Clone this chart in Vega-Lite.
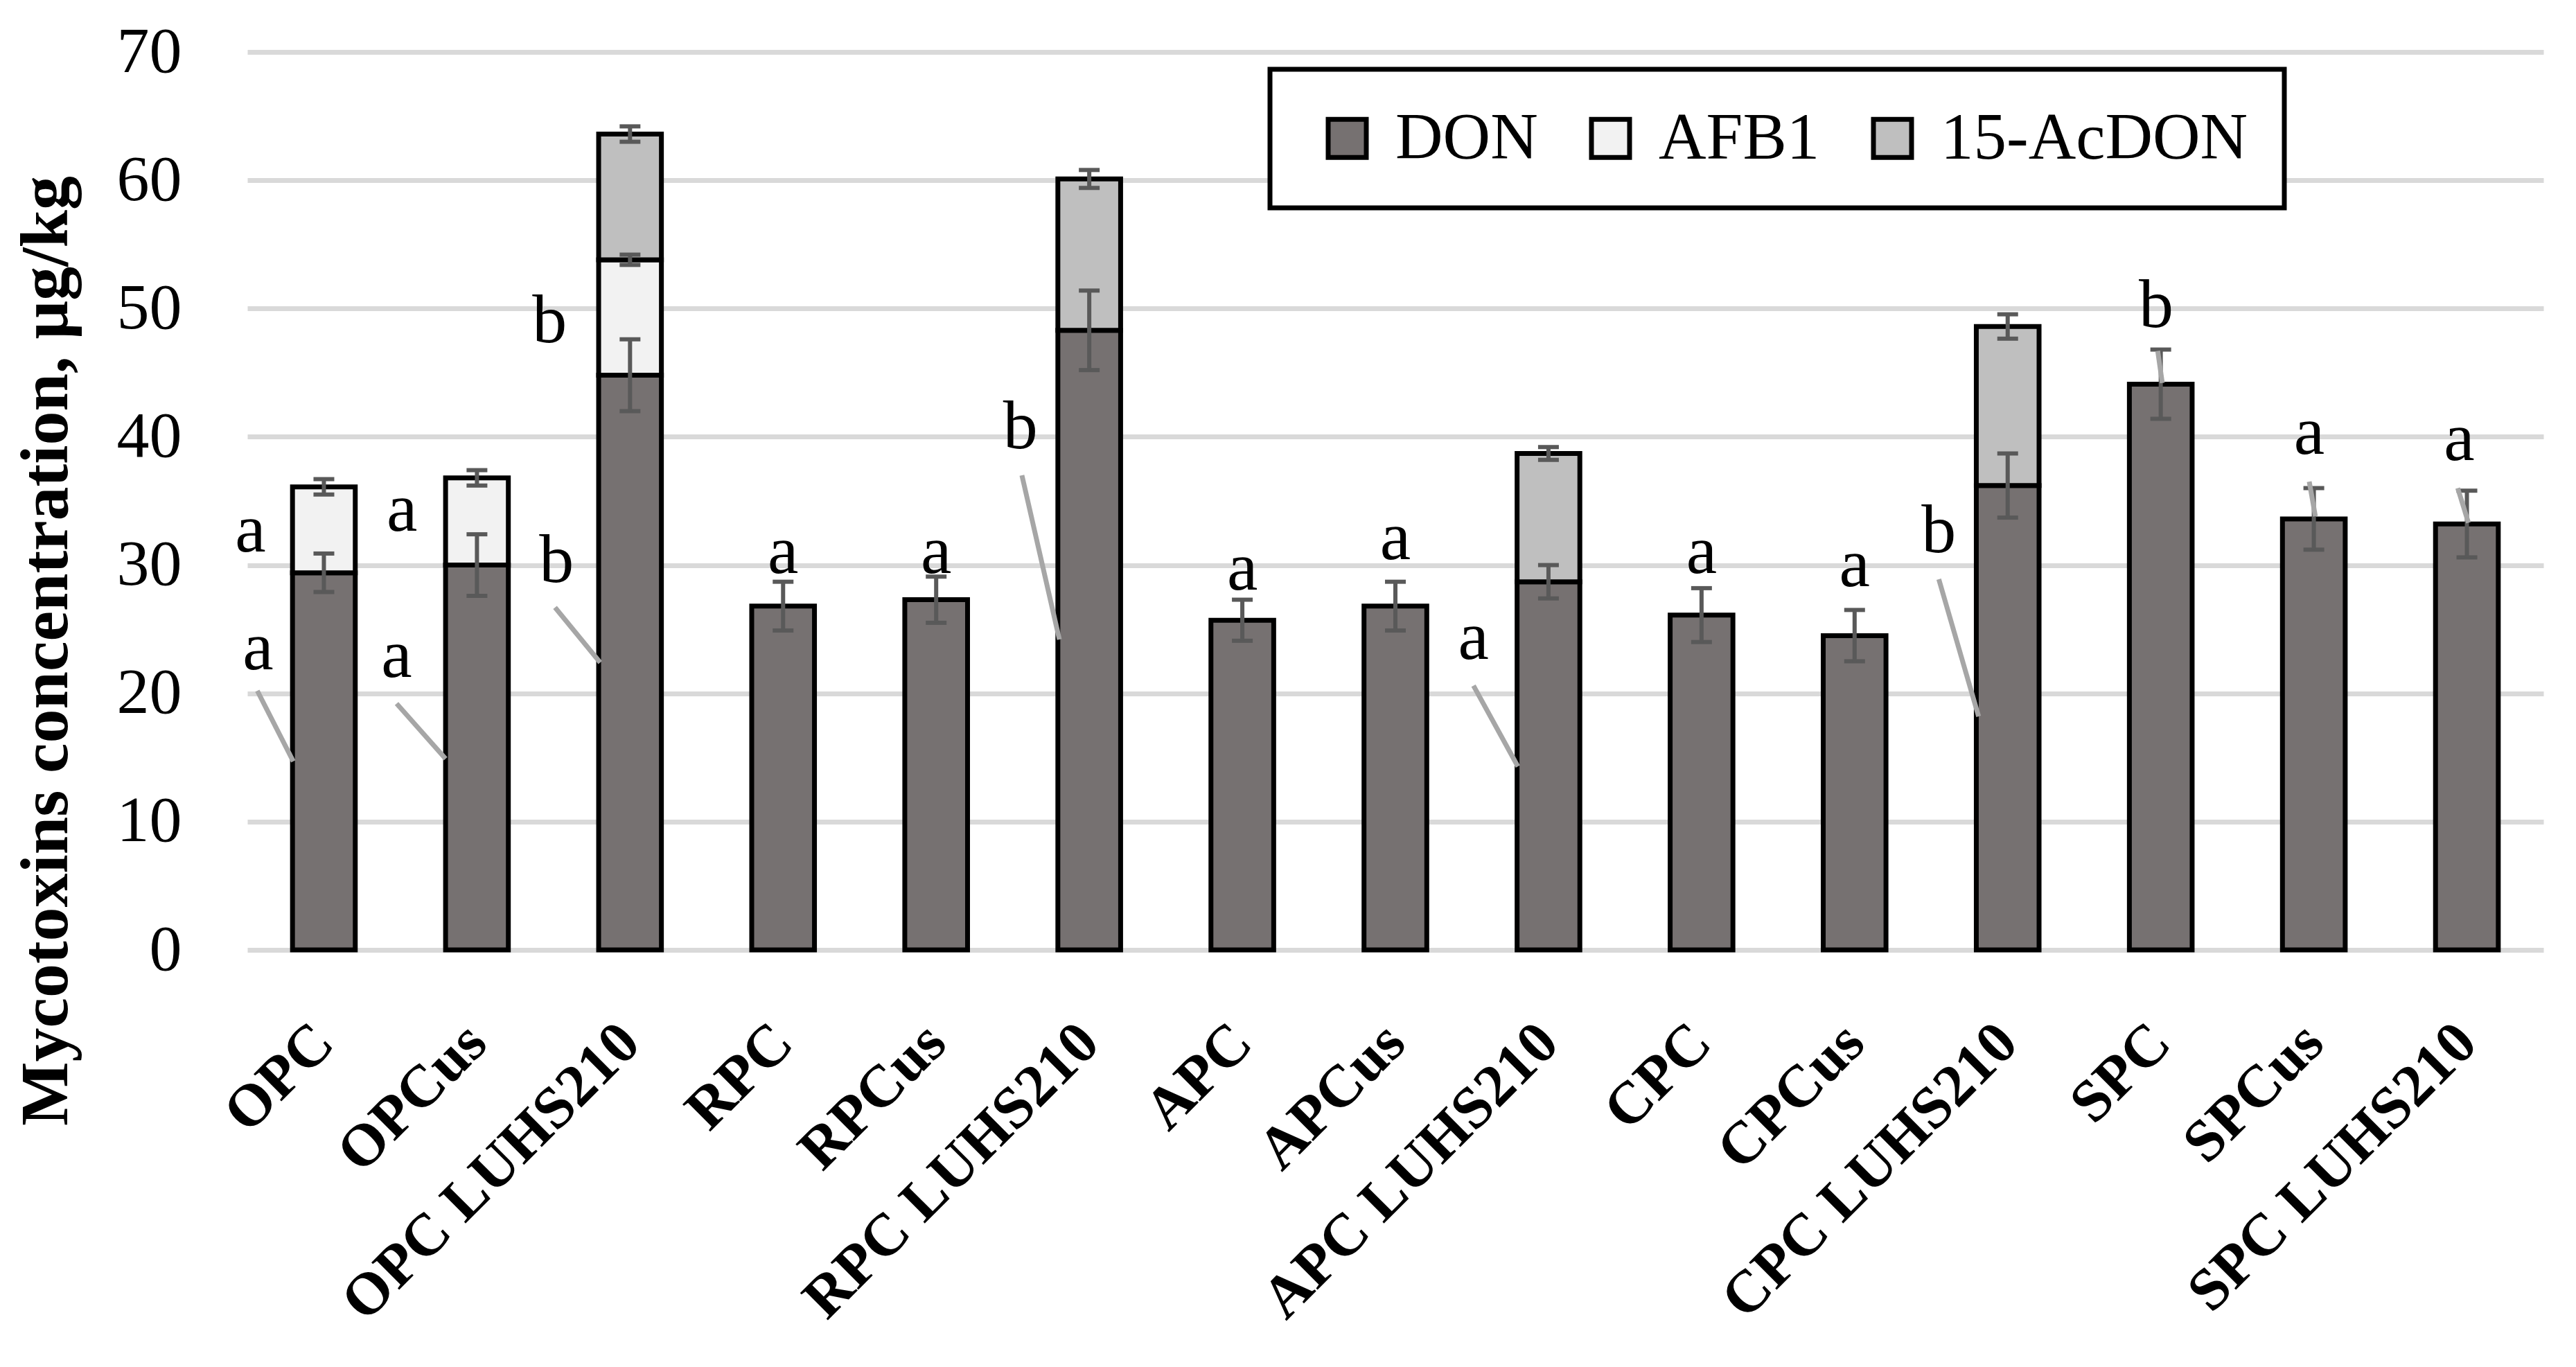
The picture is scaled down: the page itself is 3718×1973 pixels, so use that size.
{
  "$schema": "https://vega.github.io/schema/vega-lite/v6.json",
  "autosize": {"type": "none"},
  "width": 3314,
  "height": 1296,
  "padding": {"left": 357, "top": 75, "right": 47, "bottom": 602},
  "background": "white",
  "config": {
    "view": {"stroke": null},
    "font": "Liberation Serif",
    "axis": {"labelFont": "Liberation Serif", "titleFont": "Liberation Serif", "labelColor": "black", "titleColor": "black"},
    "legend": {"labelFont": "Liberation Serif"}
  },
  "datasets": {
    "bars": [
      {"sample": "OPC", "toxin": "DON", "value": 29.4, "err": 1.5},
      {"sample": "OPC", "toxin": "AFB1", "value": 6.7, "err": 0.6},
      {"sample": "OPCus", "toxin": "DON", "value": 30.0, "err": 2.4},
      {"sample": "OPCus", "toxin": "AFB1", "value": 6.8, "err": 0.6},
      {"sample": "OPC LUHS210", "toxin": "DON", "value": 44.8, "err": 2.8},
      {"sample": "OPC LUHS210", "toxin": "AFB1", "value": 9.0, "err": 0.4},
      {"sample": "OPC LUHS210", "toxin": "15-AcDON", "value": 9.8, "err": 0.6},
      {"sample": "RPC", "toxin": "DON", "value": 26.8, "err": 1.9},
      {"sample": "RPCus", "toxin": "DON", "value": 27.3, "err": 1.8},
      {"sample": "RPC LUHS210", "toxin": "DON", "value": 48.3, "err": 3.1},
      {"sample": "RPC LUHS210", "toxin": "15-AcDON", "value": 11.8, "err": 0.7},
      {"sample": "APC", "toxin": "DON", "value": 25.7, "err": 1.6},
      {"sample": "APCus", "toxin": "DON", "value": 26.8, "err": 1.9},
      {"sample": "APC LUHS210", "toxin": "DON", "value": 28.7, "err": 1.3},
      {"sample": "APC LUHS210", "toxin": "15-AcDON", "value": 10.0, "err": 0.5},
      {"sample": "CPC", "toxin": "DON", "value": 26.1, "err": 2.1},
      {"sample": "CPCus", "toxin": "DON", "value": 24.5, "err": 2.0},
      {"sample": "CPC LUHS210", "toxin": "DON", "value": 36.2, "err": 2.5},
      {"sample": "CPC LUHS210", "toxin": "15-AcDON", "value": 12.4, "err": 0.95},
      {"sample": "SPC", "toxin": "DON", "value": 44.1, "err": 2.7},
      {"sample": "SPCus", "toxin": "DON", "value": 33.6, "err": 2.4},
      {"sample": "SPC LUHS210", "toxin": "DON", "value": 33.2, "err": 2.6}
    ],
    "letters": [
      {"sample": "OPC", "letter": "a", "y": 32.7, "shift": -0.48},
      {"sample": "OPC", "letter": "a", "y": 23.5, "shift": -0.43},
      {"sample": "OPCus", "letter": "a", "y": 34.3, "shift": -0.49},
      {"sample": "OPCus", "letter": "a", "y": 22.9, "shift": -0.525},
      {"sample": "OPC LUHS210", "letter": "b", "y": 49.0, "shift": -0.525},
      {"sample": "OPC LUHS210", "letter": "b", "y": 30.3, "shift": -0.48},
      {"sample": "RPC", "letter": "a", "y": 31.0, "shift": 0},
      {"sample": "RPCus", "letter": "a", "y": 31.0, "shift": 0},
      {"sample": "RPC LUHS210", "letter": "b", "y": 40.7, "shift": -0.45},
      {"sample": "APC", "letter": "a", "y": 29.7, "shift": 0},
      {"sample": "APCus", "letter": "a", "y": 32.1, "shift": 0},
      {"sample": "APC LUHS210", "letter": "a", "y": 24.3, "shift": -0.49},
      {"sample": "CPC", "letter": "a", "y": 31.0, "shift": 0},
      {"sample": "CPCus", "letter": "a", "y": 30.0, "shift": 0},
      {"sample": "CPC LUHS210", "letter": "b", "y": 32.6, "shift": -0.45},
      {"sample": "SPC", "letter": "b", "y": 50.2, "shift": -0.03},
      {"sample": "SPCus", "letter": "a", "y": 40.3, "shift": -0.03},
      {"sample": "SPC LUHS210", "letter": "a", "y": 39.8, "shift": -0.05}
    ],
    "leaders": [
      {"id": 1, "sample": "OPC", "y": 20.2, "shift": -0.435},
      {"id": 1, "sample": "OPC", "y": 14.7, "shift": -0.2},
      {"id": 2, "sample": "OPCus", "y": 19.2, "shift": -0.525},
      {"id": 2, "sample": "OPCus", "y": 14.9, "shift": -0.205},
      {"id": 3, "sample": "OPC LUHS210", "y": 26.7, "shift": -0.49},
      {"id": 3, "sample": "OPC LUHS210", "y": 22.4, "shift": -0.195},
      {"id": 4, "sample": "RPC LUHS210", "y": 37.0, "shift": -0.44},
      {"id": 4, "sample": "RPC LUHS210", "y": 24.2, "shift": -0.195},
      {"id": 5, "sample": "APC LUHS210", "y": 20.6, "shift": -0.49},
      {"id": 5, "sample": "APC LUHS210", "y": 14.3, "shift": -0.2},
      {"id": 6, "sample": "CPC LUHS210", "y": 28.9, "shift": -0.45},
      {"id": 6, "sample": "CPC LUHS210", "y": 18.2, "shift": -0.19},
      {"id": 7, "sample": "SPC", "y": 46.7, "shift": -0.02},
      {"id": 7, "sample": "SPC", "y": 44.2, "shift": 0.01},
      {"id": 8, "sample": "SPCus", "y": 36.5, "shift": -0.03},
      {"id": 8, "sample": "SPCus", "y": 33.8, "shift": 0.01},
      {"id": 9, "sample": "SPC LUHS210", "y": 36.0, "shift": -0.06},
      {"id": 9, "sample": "SPC LUHS210", "y": 33.3, "shift": 0.01}
    ]
  },
  "resolve": {"scale": {"x": "independent", "xOffset": "independent"}, "axis": {"x": "independent"}},
  "layer": [
    {
      "layer": [
        {
          "data": {"name": "bars"},
          "transform": [
            {"stack": "value", "groupby": ["sample"], "sort": [{"field": "toxin", "order": "descending"}], "as": ["v0", "v1"]}
          ],
          "mark": {"type": "bar", "stroke": "black", "strokeWidth": 7, "opacity": 1},
          "encoding": {
            "x": {
              "field": "sample", "type": "nominal",
              "scale": {
                "domain": ["OPC", "OPCus", "OPC LUHS210", "RPC", "RPCus", "RPC LUHS210", "APC", "APCus", "APC LUHS210", "CPC", "CPCus", "CPC LUHS210", "SPC", "SPCus", "SPC LUHS210"],
                "paddingInner": 0.59, "paddingOuter": 0.295
              },
              "axis": {
                "title": null, "domain": false, "ticks": false, "grid": false,
                "labelAngle": -45, "labelAlign": "right", "labelBaseline": "middle",
                "labelFontSize": 86, "labelFontWeight": "bold", "labelPadding": 120,
                "labelOverlap": false, "labelLimit": 2000
              }
            },
            "y": {
              "field": "v1", "type": "quantitative",
              "title": "Mycotoxins concentration, µg/kg",
              "scale": {"domain": [0, 70], "nice": false},
              "axis": {
                "values": [0, 10, 20, 30, 40, 50, 60, 70],
                "title": "Mycotoxins concentration, µg/kg",
                "titleFontSize": 98, "titleFontWeight": "bold",
                "titleAngle": -90, "titleX": -261, "titleY": 864, "titleAlign": "center", "titleBaseline": "alphabetic",
                "labelFontSize": 94, "labelPadding": 95,
                "domain": false, "ticks": false,
                "grid": true, "gridColor": "#D9D9D9", "gridWidth": 7
              }
            },
            "y2": {"field": "v0"},
            "color": {
              "field": "toxin", "type": "nominal",
              "scale": {"domain": ["DON", "AFB1", "15-AcDON"], "range": ["#767171", "#F2F2F2", "#BFBFBF"]},
              "legend": {
                "title": null, "orient": "none", "direction": "horizontal",
                "legendX": 1476, "legendY": 25,
                "padding": 52, "strokeColor": "black", "fillColor": "white",
                "symbolType": "square", "symbolSize": 3025, "symbolStrokeColor": "black", "symbolStrokeWidth": 7, "symbolOpacity": 1,
                "symbolOffset": 12,
                "labelFontSize": 95, "labelColor": "black", "labelOffset": 22, "columnPadding": 45, "labelLimit": 1000,
                "encode": {"legend": {"update": {"stroke": {"value": "black"}, "strokeWidth": {"value": 7}}}}
              }
            }
          }
        },
        {
          "data": {"name": "bars"},
          "transform": [
            {"stack": "value", "groupby": ["sample"], "sort": [{"field": "toxin", "order": "descending"}], "as": ["v0", "v1"]}
          ],
          "mark": {"type": "errorbar", "color": "#595959", "opacity": 1, "thickness": 6, "ticks": {"size": 30, "thickness": 6, "color": "#595959", "opacity": 1}, "rule": {"opacity": 1, "strokeWidth": 6}},
          "encoding": {
            "x": {"field": "sample", "type": "nominal"},
            "y": {"field": "v1", "type": "quantitative", "title": "Mycotoxins concentration, µg/kg"},
            "yError": {"field": "err"}
          }
        }
      ]
    },
    {
      "layer": [
        {
          "data": {"name": "leaders"},
          "mark": {"type": "line", "color": "#A6A6A6", "strokeWidth": 7},
          "encoding": {
            "x": {
              "field": "sample", "type": "nominal", "axis": null,
              "scale": {
                "domain": ["OPC", "OPCus", "OPC LUHS210", "RPC", "RPCus", "RPC LUHS210", "APC", "APCus", "APC LUHS210", "CPC", "CPCus", "CPC LUHS210", "SPC", "SPCus", "SPC LUHS210"],
                "paddingInner": 0.59, "paddingOuter": 0.295
              }
            },
            "xOffset": {"field": "shift", "type": "quantitative", "scale": {"domain": [-1, 1], "range": [-175.6, 266.2]}},
            "y": {"field": "y", "type": "quantitative", "title": "Mycotoxins concentration, µg/kg"},
            "detail": {"field": "id", "type": "nominal"}
          }
        },
        {
          "data": {"name": "letters"},
          "mark": {"type": "text", "fontSize": 100, "font": "Liberation Serif", "color": "black", "align": "center", "baseline": "middle"},
          "encoding": {
            "x": {"field": "sample", "type": "nominal", "axis": null},
            "xOffset": {"field": "shift", "type": "quantitative"},
            "y": {"field": "y", "type": "quantitative", "title": "Mycotoxins concentration, µg/kg"},
            "text": {"field": "letter"}
          }
        }
      ]
    }
  ]
}
